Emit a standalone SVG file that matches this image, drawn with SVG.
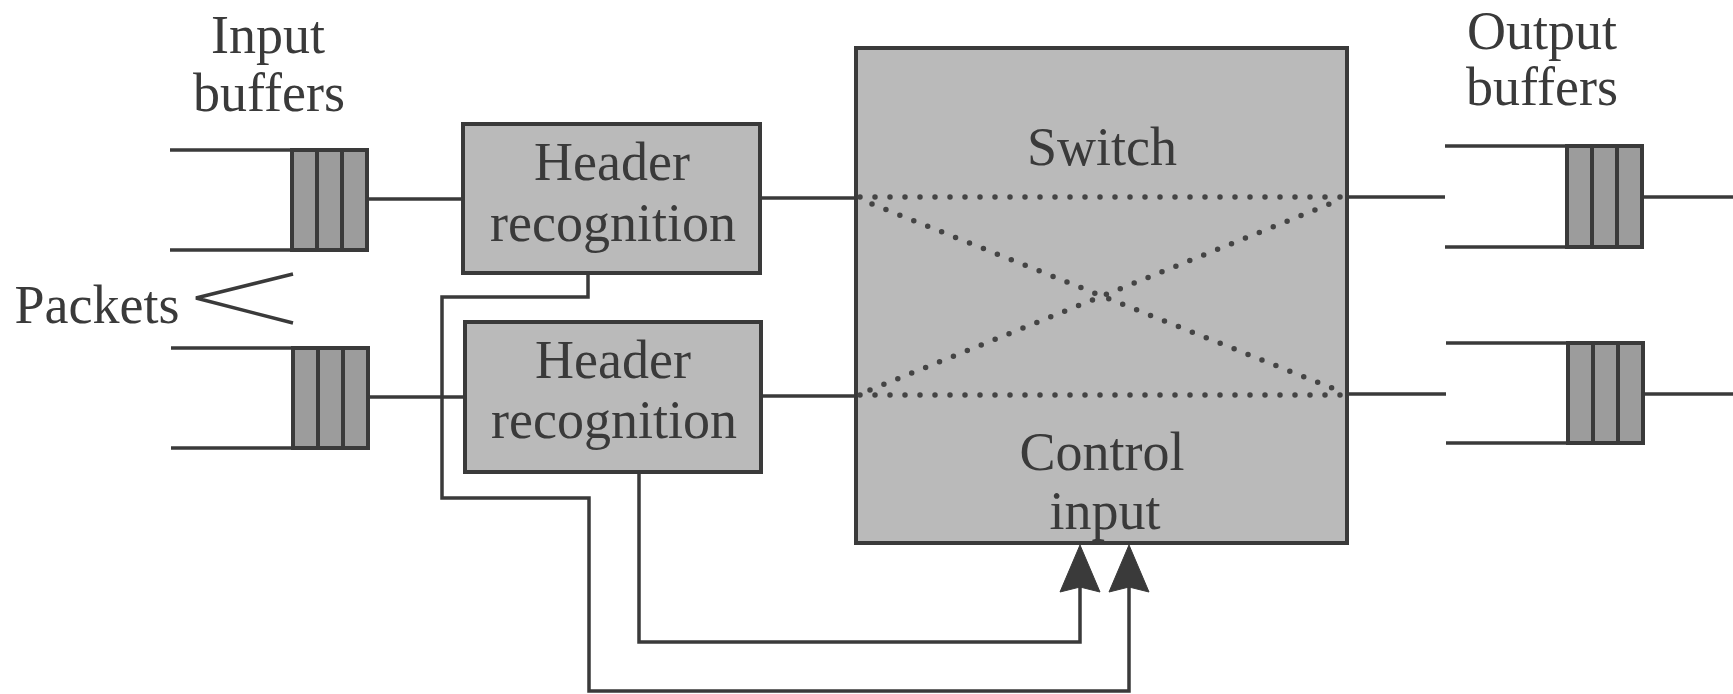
<svg xmlns="http://www.w3.org/2000/svg" width="1733" height="694" viewBox="0 0 1733 694">
  <defs>
    <style>
      .txt { font-family: "Liberation Serif", "Times New Roman", serif; font-size: 54px; fill: #3a3a3a; text-anchor: middle; }
      .box { fill: #bababa; stroke: #3a3a3a; stroke-width: 4; }
      .cell { fill: #9c9c9c; stroke: #3a3a3a; stroke-width: 4; }
      .ln { fill: none; stroke: #3a3a3a; stroke-width: 3.5; }
      .dot { fill: none; stroke: #444444; stroke-width: 5.5; stroke-linecap: round; stroke-dasharray: 0 15; }
      .arr { fill: #3a3a3a; stroke: #3a3a3a; stroke-width: 1; }
    </style>
  </defs>
  <rect width="1733" height="694" fill="#ffffff"/>

  <g id="label-input-buffers">
    <text class="txt" x="268" y="53">Input</text>
    <text class="txt" x="269" y="111">buffers</text>
  </g>
  <g id="label-output-buffers">
    <text class="txt" x="1542" y="49">Output</text>
    <text class="txt" x="1542" y="105">buffers</text>
  </g>
  <g id="label-packets">
    <text class="txt" x="97" y="323">Packets</text>
    <polyline class="ln" points="293,274 196,298 293,323"/>
  </g>

  <g id="input-buffer-1">
    <line class="ln" x1="170" y1="150" x2="292" y2="150"/>
    <line class="ln" x1="170" y1="250" x2="292" y2="250"/>
    <rect class="cell" x="292" y="150" width="25" height="100"/>
    <rect class="cell" x="317" y="150" width="25" height="100"/>
    <rect class="cell" x="342" y="150" width="25" height="100"/>
  </g>
  <g id="input-buffer-2">
    <line class="ln" x1="171" y1="348" x2="293" y2="348"/>
    <line class="ln" x1="171" y1="448" x2="293" y2="448"/>
    <rect class="cell" x="293" y="348" width="25" height="100"/>
    <rect class="cell" x="318" y="348" width="25" height="100"/>
    <rect class="cell" x="343" y="348" width="25" height="100"/>
  </g>

  <g id="header-recognition-1">
    <rect class="box" x="463" y="124" width="297" height="149"/>
    <text class="txt" x="612" y="180">Header</text>
    <text class="txt" x="613" y="241">recognition</text>
  </g>
  <g id="header-recognition-2">
    <rect class="box" x="465" y="322" width="296" height="150"/>
    <text class="txt" x="613" y="378">Header</text>
    <text class="txt" x="614" y="438">recognition</text>
  </g>

  <g id="switch">
    <rect class="box" x="856" y="48" width="491" height="495"/>
    <line class="dot" x1="860" y1="197" x2="1345" y2="197"/>
    <line class="dot" x1="860" y1="395" x2="1345" y2="395"/>
    <line class="dot" x1="872" y1="204" x2="1332" y2="388"/>
    <line class="dot" x1="870" y1="390" x2="1332" y2="203"/>
    <text class="txt" x="1102" y="165">Switch</text>
    <text class="txt" x="1102" y="470">Control</text>
    <text class="txt" x="1105" y="529">input</text>
  </g>

  <g id="output-buffer-1">
    <line class="ln" x1="1445" y1="146" x2="1567" y2="146"/>
    <line class="ln" x1="1445" y1="247" x2="1567" y2="247"/>
    <rect class="cell" x="1567" y="146" width="25" height="101"/>
    <rect class="cell" x="1592" y="146" width="25" height="101"/>
    <rect class="cell" x="1617" y="146" width="25" height="101"/>
  </g>
  <g id="output-buffer-2">
    <line class="ln" x1="1446" y1="343" x2="1568" y2="343"/>
    <line class="ln" x1="1446" y1="443" x2="1568" y2="443"/>
    <rect class="cell" x="1568" y="343" width="25" height="100"/>
    <rect class="cell" x="1593" y="343" width="25" height="100"/>
    <rect class="cell" x="1618" y="343" width="25" height="100"/>
  </g>

  <g id="connectors">
    <line class="ln" x1="367" y1="199" x2="463" y2="199"/>
    <line class="ln" x1="368" y1="397" x2="465" y2="397"/>
    <line class="ln" x1="760" y1="198" x2="856" y2="198"/>
    <line class="ln" x1="761" y1="396" x2="856" y2="396"/>
    <line class="ln" x1="1347" y1="197" x2="1445" y2="197"/>
    <line class="ln" x1="1347" y1="394" x2="1446" y2="394"/>
    <line class="ln" x1="1642" y1="197" x2="1733" y2="197"/>
    <line class="ln" x1="1643" y1="394" x2="1733" y2="394"/>
    <polyline class="ln" points="588,273 588,297 442,297 442,498 589,498 589,691 1129,691 1129,585"/>
    <polyline class="ln" points="639,472 639,642 1080,642 1080,585"/>
    <path class="arr" d="M1080,545 L1100,592 L1080,587 L1060,592 Z"/>
    <path class="arr" d="M1129,545 L1149,592 L1129,587 L1109,592 Z"/>
  </g>
</svg>
